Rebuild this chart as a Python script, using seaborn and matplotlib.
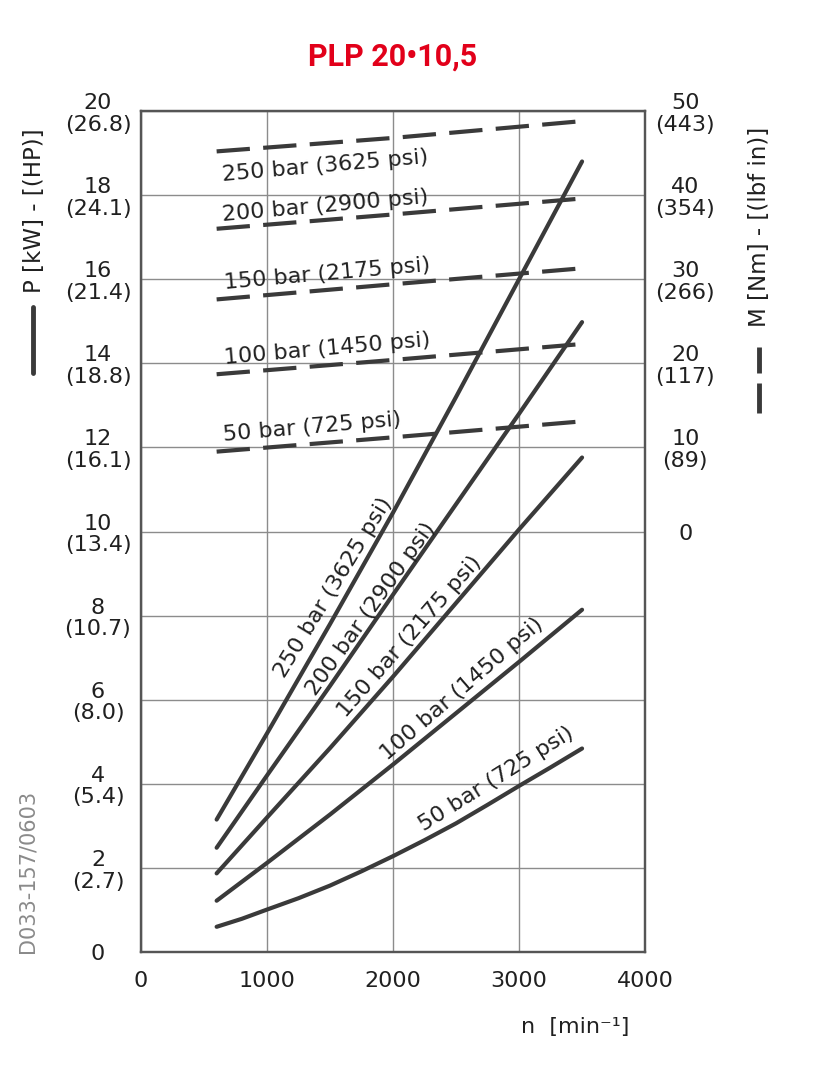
import numpy as np
import pandas as pd
import matplotlib.pyplot as plt
import seaborn as sns
from matplotlib.lines import Line2D

# speed [min-1] where the power curves were read
speed = [600, 1000, 1500, 2000, 2500, 3000, 3500]
speed_50 = [600, 800, 1000, 1250, 1500, 1750, 2000, 2250, 2500, 2750, 3000, 3250, 3500]
pressures = ["250 bar (3625 psi)", "200 bar (2900 psi)", "150 bar (2175 psi)",
             "100 bar (1450 psi)", "50 bar (725 psi)"]

# power P [kW]
power_250 = [3.15, 5.2, 7.8, 10.45, 13.2, 16.0, 18.8]
power_200 = [2.48, 4.2, 6.33, 8.5, 10.65, 12.8, 14.98]
power_150 = [1.87, 3.2, 4.85, 6.55, 8.3, 10.05, 11.76]
power_100 = [1.22, 2.12, 3.27, 4.46, 5.68, 6.9, 8.14]
power_50 = [0.6, 0.79, 1.01, 1.28, 1.58, 1.92, 2.28, 2.66, 3.06, 3.5, 3.95, 4.39, 4.84]

# torque M [Nm]
torque_speed = [600, 2000, 3500]
torque_250 = [45.2, 46.8, 48.8]
torque_200 = [36.0, 37.7, 39.6]
torque_150 = [27.6, 29.4, 31.3]
torque_100 = [18.7, 20.4, 22.3]
torque_50 = [9.5, 11.2, 13.1]

# axis labels
kw_ticks = [0, 2, 4, 6, 8, 10, 12, 14, 16, 18, 20]
hp_ticks = ["", "(2.7)", "(5.4)", "(8.0)", "(10.7)", "(13.4)", "(16.1)",
            "(18.8)", "(21.4)", "(24.1)", "(26.8)"]
nm_ticks = [0, 10, 20, 30, 40, 50]
lbf_ticks = ["", "(89)", "(117)", "(266)", "(354)", "(443)"]
n_ticks = [0, 1000, 2000, 3000, 4000]

power = pd.concat([
    pd.DataFrame({"n": speed, "P": vals, "p": p})
    for p, vals in zip(pressures[:4], [power_250, power_200, power_150, power_100])
] + [pd.DataFrame({"n": speed_50, "P": power_50, "p": pressures[4]})], ignore_index=True)
torque = pd.DataFrame({
    "n": torque_speed * 5,
    "M": torque_250 + torque_200 + torque_150 + torque_100 + torque_50,
    "p": np.repeat(pressures, len(torque_speed)),
})

sns.set_theme(style="white")
plt.rcParams["font.family"] = ["DejaVu Sans"]

ink = "#3a3a3a"
txt = "#202020"
fs = 16
fig = plt.figure(figsize=(8.36, 10.8), dpi=100)
ax = fig.add_axes([0.1687, 0.1185, 0.6029, 0.7787])
ax2 = ax.twinx()

line_pal = {p: ink for p in pressures}
sns.lineplot(data=power, x="n", y="P", hue="p", palette=line_pal,
             linewidth=3, legend=False, ax=ax)
sns.lineplot(data=torque, x="n", y="M", hue="p", palette=line_pal,
             linewidth=3, legend=False, ax=ax2)
for line in ax2.lines:
    line.set_dashes([8, 3.2])
    line.set_dash_capstyle("butt")

ax.set_xlim(0, 4000)
ax.set_ylim(0, 20)
ax2.set_ylim(-50, 50)
ax.set_xticks(n_ticks)
ax.set_xticklabels([str(v) for v in n_ticks], fontsize=fs, color=txt)
ax.set_yticks(kw_ticks)
ax.set_yticklabels([f"{k}\n{h}" if h else f"{k}" for k, h in zip(kw_ticks, hp_ticks)],
                   fontsize=fs, color=txt, ha="center", linespacing=1.1)
ax2.set_yticks(nm_ticks)
ax2.set_yticklabels([f"{k}\n{h}" if h else f"{k}" for k, h in zip(nm_ticks, lbf_ticks)],
                    fontsize=fs, color=txt, ha="center", linespacing=1.1)
ax.tick_params(axis="y", length=0, pad=31)
ax.tick_params(axis="x", length=0, pad=14)
ax2.tick_params(axis="y", length=0, pad=29)
ax.set_xlabel("")
ax.set_ylabel("")
ax2.set_ylabel("")

ax.grid(True, color="#8c8c8c", linewidth=1.0)
for a in (ax, ax2):
    for s in a.spines.values():
        s.set_color("#555555")
        s.set_linewidth(1.6)

# curve labels
dash_lab = [(1460, 18.70), (1460, 17.74), (1476, 16.12), (1476, 14.33), (1357, 12.48)]
for p, (x, y) in zip(pressures, dash_lab):
    ax.text(x, y, p, fontsize=fs, color=txt, rotation=5, ha="center", va="center",
            rotation_mode="anchor")
solid_lab = [(1524, 8.67, 58.6), (1824, 8.15, 54.5), (2135, 7.50, 48.8),
             (2545, 6.25, 40.7), (2816, 4.11, 32.2)]
for p, (x, y, r) in zip(pressures, solid_lab):
    ax.text(x, y, p, fontsize=fs, color=txt, rotation=r, ha="center", va="center",
            rotation_mode="anchor")

fig.text(0.470, 0.948, "PLP 20\u202210,5", fontsize=22, fontweight="bold",
         color="#e2001a", ha="center", va="center", family=["Roboto", "DejaVu Sans"])
fig.text(0.688, 0.049, "n  [min\u207b\u00b9]", fontsize=fs, color=txt, ha="center", va="center")

fig.text(0.041, 0.805, "P [kW] - [(HP)]", fontsize=16.5, color=txt, rotation=90,
         ha="center", va="center")
fig.add_artist(Line2D([0.039, 0.039], [1 - 373 / 1080, 1 - 307 / 1080],
                      color=ink, linewidth=3.5, transform=fig.transFigure))

fig.text(0.908, 0.790, "M [Nm] - [(lbf in)]", fontsize=16.5, color=txt, rotation=90,
         ha="center", va="center")
for y0, y1 in [(373, 347), (413, 383)]:
    fig.add_artist(Line2D([0.908, 0.908], [1 - y1 / 1080, 1 - y0 / 1080],
                          color=ink, linewidth=3.5, solid_capstyle="butt",
                          transform=fig.transFigure))

fig.text(0.033, 0.1935, "D033-157/0603", fontsize=15, color="#8a8a8a", rotation=90,
         ha="center", va="center")

fig.savefig("out.png", dpi=100, facecolor="white")
